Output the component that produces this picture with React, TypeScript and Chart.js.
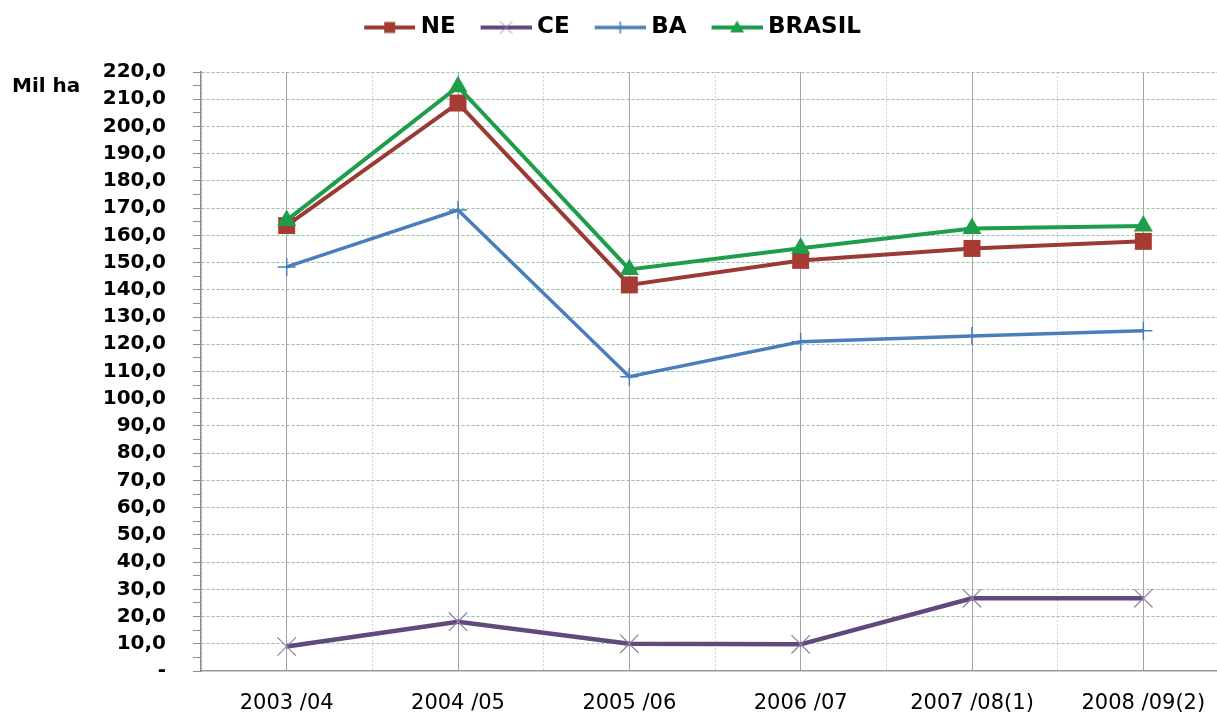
import React, { useEffect, useRef } from 'react';
import { Chart, registerables } from 'chart.js';

Chart.register(...registerables);

// ---- data ----
const categories = ['2003 /04', '2004 /05', '2005 /06', '2006 /07', '2007 /08(1)', '2008 /09(2)'];
const seriesNE = [163.6, 208.6, 141.8, 150.8, 155.2, 157.8];
const seriesCE = [9.0, 18.1, 10.0, 9.8, 26.7, 26.7];
const seriesBA = [148.4, 169.3, 108.1, 120.9, 123.0, 125.0];
const seriesBR = [165.5, 214.6, 147.5, 155.3, 162.5, 163.4];
const seriesNames = ['NE', 'CE', 'BA', 'BRASIL'];
const yMin = 0;
const yMax = 220;
const yMinorStep = 5;
const yLabelStep = 10;
const unitLabel = 'Mil ha';

const FONT = '"DejaVu Sans", sans-serif';

const COLORS = {
  ne: '#9B3A35',
  neMarker: '#A63B33',
  ce: '#5F4A7B',
  ceMarker: '#8C7FA4',
  ba: '#4A7EBB',
  br: '#1E9E4B',
};

function makeIcon(color: string, markerColor: string, kind: string, lw: number) {
  const c = document.createElement('canvas');
  c.width = 72;
  c.height = 24;
  const ctx = c.getContext('2d')!;
  const cy = 12;
  const cx = 46.5;
  ctx.strokeStyle = color;
  ctx.lineWidth = lw;
  ctx.beginPath();
  ctx.moveTo(21, cy);
  ctx.lineTo(72, cy);
  ctx.stroke();
  ctx.fillStyle = markerColor;
  ctx.strokeStyle = markerColor;
  if (kind === 'rect') {
    ctx.fillRect(cx - 5.5, cy - 5.5, 11, 11);
  } else if (kind === 'crossRot') {
    ctx.lineWidth = 1;
    ctx.beginPath();
    ctx.moveTo(cx - 6, cy - 6);
    ctx.lineTo(cx + 6, cy + 6);
    ctx.moveTo(cx + 6, cy - 6);
    ctx.lineTo(cx - 6, cy + 6);
    ctx.stroke();
  } else if (kind === 'cross') {
    ctx.lineWidth = 1.5;
    ctx.beginPath();
    ctx.moveTo(cx, cy - 6);
    ctx.lineTo(cx, cy + 6);
    ctx.stroke();
  } else if (kind === 'triangle') {
    ctx.beginPath();
    ctx.moveTo(cx, cy - 7);
    ctx.lineTo(cx + 7, cy + 5);
    ctx.lineTo(cx - 7, cy + 5);
    ctx.closePath();
    ctx.fill();
  }
  return c;
}

const unitLabelPlugin = {
  id: 'unitLabel',
  afterDraw(chart: any) {
    const ctx = chart.ctx;
    ctx.save();
    ctx.font = `bold 20px ${FONT}`;
    ctx.fillStyle = '#000';
    ctx.textAlign = 'left';
    ctx.textBaseline = 'alphabetic';
    ctx.fillText(unitLabel, 31, chart.chartArea.top + 20);
    ctx.restore();
  },
};

const legendSpacer = {
  id: 'legendSpacer',
  afterInit(chart: any) {
    const legend = chart.legend;
    if (!legend || legend.__patched) return;
    const orig = legend.fit;
    legend.fit = function () {
      orig.call(this);
      this.height += 23;
    };
    legend.__patched = true;
  },
};

export default function App() {
  const ref = useRef<HTMLCanvasElement>(null);

  useEffect(() => {
    if (!ref.current) return;
    const icons = [
      makeIcon(COLORS.ne, COLORS.neMarker, 'rect', 4),
      makeIcon(COLORS.ce, COLORS.ceMarker, 'crossRot', 4),
      makeIcon(COLORS.ba, COLORS.ba, 'cross', 3.5),
      makeIcon(COLORS.br, COLORS.br, 'triangle', 4),
    ];

    const chart = new Chart(ref.current, {
      type: 'line',
      data: {
        labels: categories,
        datasets: [
          {
            label: seriesNames[0],
            data: seriesNE,
            borderColor: COLORS.ne,
            backgroundColor: COLORS.neMarker,
            borderWidth: 4,
            pointStyle: 'rect',
            pointRadius: 12,
            pointBackgroundColor: COLORS.neMarker,
            pointBorderColor: COLORS.neMarker,
            pointBorderWidth: 0,
            tension: 0,
            order: 4,
          },
          {
            label: seriesNames[1],
            data: seriesCE,
            borderColor: COLORS.ce,
            backgroundColor: COLORS.ceMarker,
            borderWidth: 4.5,
            pointStyle: 'crossRot',
            pointRadius: 13,
            pointBorderColor: COLORS.ceMarker,
            pointBorderWidth: 1.2,
            tension: 0,
            order: 3,
          },
          {
            label: seriesNames[2],
            data: seriesBA,
            borderColor: COLORS.ba,
            backgroundColor: COLORS.ba,
            borderWidth: 3.5,
            pointStyle: 'cross',
            pointRadius: 9,
            pointBorderColor: COLORS.ba,
            pointBorderWidth: 1.5,
            tension: 0,
            order: 2,
          },
          {
            label: seriesNames[3],
            data: seriesBR,
            borderColor: COLORS.br,
            backgroundColor: COLORS.br,
            borderWidth: 4,
            pointStyle: 'triangle',
            pointRadius: 11,
            pointBackgroundColor: COLORS.br,
            pointBorderColor: COLORS.br,
            pointBorderWidth: 0,
            tension: 0,
            order: 1,
          },
        ] as any,
      },
      options: {
        responsive: false,
        maintainAspectRatio: false,
        devicePixelRatio: 1,
        animation: false,
        events: [],
        layout: { autoPadding: false, padding: { top: 6, left: 0, right: 0, bottom: 0 } },
        plugins: {
          tooltip: { enabled: false },
          legend: {
            display: true,
            position: 'top',
            align: 'center',
            labels: {
              usePointStyle: true,
              pointStyleWidth: 60,
              padding: 10,
              color: '#000',
              font: { family: FONT, size: 23, weight: 'bold' },
              generateLabels: (ch: any) =>
                ch.data.datasets.map((ds: any, i: number) => ({
                  text: ds.label,
                  pointStyle: icons[i],
                  fillStyle: 'transparent',
                  strokeStyle: 'transparent',
                  lineWidth: 0,
                  hidden: false,
                  datasetIndex: i,
                  fontColor: '#000',
                })),
            },
          },
        },
        scales: {
          x: {
            type: 'category',
            offset: true,
            afterFit: (scale: any) => {
              scale.height = 44;
            },
            grid: {
              color: '#a3a3a3',
              lineWidth: 1,
              offset: false,
              drawTicks: false,
            },
            border: { display: true, color: '#9a9a9a', width: 1.5 },
            ticks: {
              color: '#000',
              padding: 20,
              autoSkip: false,
              maxRotation: 0,
              font: { family: FONT, size: 21, weight: 'normal' },
            },
          },
          xb: {
            type: 'linear',
            position: 'bottom',
            min: 0,
            max: categories.length,
            ticks: { display: false, stepSize: 1 },
            grid: { color: '#d2d2d2', lineWidth: 1, drawTicks: false },
            border: { display: false, dash: [2, 2] },
          },
          y: {
            type: 'linear',
            min: yMin,
            max: yMax,
            afterFit: (scale: any) => {
              scale.width = 220;
            },
            ticks: {
              stepSize: yMinorStep,
              autoSkip: false,
              padding: 27,
              color: '#000',
              font: { family: FONT, size: 20, weight: 'bold' },
              callback: (v: any) => {
                const n = Number(v);
                if (n % yLabelStep !== 0) return '';
                if (n === 0) return '-';
                return n.toFixed(1).replace('.', ',');
              },
            },
            grid: {
              color: (c: any) =>
                c.tick && c.tick.value % yLabelStep === 0 && c.tick.value !== 0 ? '#93bfa6' : 'rgba(0,0,0,0)',
              lineWidth: 1,
              drawTicks: true,
              tickLength: 8,
              tickColor: '#8c8c8c',
              tickWidth: 1,
              tickBorderDash: [],
            },
            border: { display: true, color: '#8c8c8c', width: 1.5, dash: [3, 2] },
          },
        },
      } as any,
      plugins: [legendSpacer, unitLabelPlugin],
    });
    return () => chart.destroy();
  }, []);

  return (
    <div
      style={{
        position: 'fixed',
        left: 0,
        top: 0,
        width: 1217,
        height: 715,
        overflow: 'hidden',
        background: '#fff',
      }}
    >
      <canvas
        ref={ref}
        width={1248}
        height={715}
        style={{ position: 'absolute', left: -19, top: 0, width: 1248, height: 715 }}
      />
    </div>
  );
}
